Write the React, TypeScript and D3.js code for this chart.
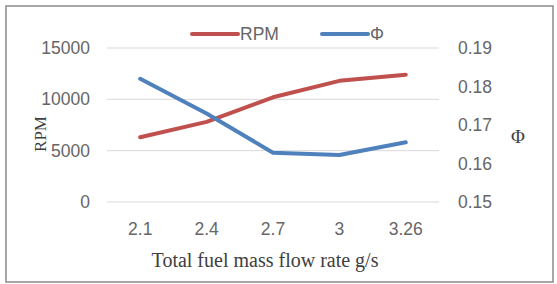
import { useEffect, useRef } from 'react';
import { axisLeft, axisRight, line, scaleBand, scaleLinear, select } from 'd3';

const categories = ['2.1', '2.4', '2.7', '3', '3.26'];
const rpmValues = [6300, 7800, 10200, 11800, 12400];
const phiValues = [0.182, 0.173, 0.1628, 0.1622, 0.1655];
const rpmTicks = [0, 5000, 10000, 15000];
const phiTicks = [0.15, 0.16, 0.17, 0.18, 0.19];

export default function App() {
  const ref = useRef<SVGSVGElement>(null);

  useEffect(() => {
    const svg = select(ref.current);
    svg.selectAll('*').remove();

    const width = 557,
      height = 284;
    const plot = { left: 107, right: 439, top: 48, bottom: 202 };
    const tickFont = '"Liberation Sans", Arial, sans-serif';
    const serif = '"Liberation Serif", "Times New Roman", serif';

    svg.attr('width', width).attr('height', height);

    svg
      .append('rect')
      .attr('width', width)
      .attr('height', height)
      .attr('fill', 'white');

    // frame
    svg
      .append('rect')
      .attr('x', 6)
      .attr('y', 6)
      .attr('width', 547)
      .attr('height', 276)
      .attr('fill', 'none')
      .attr('stroke', '#8a8a8a')
      .attr('stroke-width', 1.5);

    const x = scaleBand().domain(categories).range([plot.left, plot.right]);
    const yL = scaleLinear().domain([0, 15000]).range([plot.bottom, plot.top]);
    const yR = scaleLinear().domain([0.15, 0.19]).range([plot.bottom, plot.top]);

    // gridlines
    svg
      .append('g')
      .selectAll('line')
      .data(rpmTicks)
      .join('line')
      .attr('x1', plot.left)
      .attr('x2', plot.right)
      .attr('y1', (d) => yL(d))
      .attr('y2', (d) => yL(d))
      .attr('stroke', '#d9d9d9')
      .attr('stroke-width', 1);

    // left axis
    const left = svg
      .append('g')
      .attr('transform', `translate(${plot.left},0)`)
      .call(
        axisLeft(yL)
          .tickValues(rpmTicks)
          .tickSize(0)
          .tickPadding(17)
          .tickFormat((d) => String(d))
      );
    left.select('.domain').remove();
    left
      .selectAll('text')
      .attr('fill', '#666')
      .attr('font-size', 17.5)
      .attr('font-family', tickFont);

    // right axis
    const right = svg
      .append('g')
      .attr('transform', `translate(${plot.right},0)`)
      .call(
        axisRight(yR)
          .tickValues(phiTicks)
          .tickSize(0)
          .tickPadding(19)
          .tickFormat((d) => Number(d).toFixed(2))
      );
    right.select('.domain').remove();
    right
      .selectAll('text')
      .attr('fill', '#666')
      .attr('font-size', 17.5)
      .attr('font-family', tickFont);

    // x labels
    svg
      .append('g')
      .selectAll('text')
      .data(categories)
      .join('text')
      .attr('x', (d) => Number(x(d)) + x.bandwidth() / 2)
      .attr('y', 235)
      .attr('text-anchor', 'middle')
      .attr('fill', '#666')
      .attr('font-size', 17.5)
      .attr('font-family', tickFont)
      .text((d) => d);

    const cx = (_: number, i: number) => Number(x(categories[i])) + x.bandwidth() / 2;

    svg
      .append('path')
      .datum(rpmValues)
      .attr('fill', 'none')
      .attr('stroke', '#c0504d')
      .attr('stroke-width', 4)
      .attr('stroke-linecap', 'round')
      .attr('stroke-linejoin', 'round')
      .attr('d', line<number>().x(cx).y((d) => yL(d)));

    svg
      .append('path')
      .datum(phiValues)
      .attr('fill', 'none')
      .attr('stroke', '#4f81bd')
      .attr('stroke-width', 4)
      .attr('stroke-linecap', 'round')
      .attr('stroke-linejoin', 'round')
      .attr('d', line<number>().x(cx).y((d) => yR(d)));

    // legend
    const legend = [
      { name: 'RPM', color: '#c0504d', x: 192 },
      { name: 'Φ', color: '#4f81bd', x: 322 },
    ];
    const lg = svg.append('g').selectAll('g').data(legend).join('g');
    lg.append('line')
      .attr('x1', (d) => d.x)
      .attr('x2', (d) => d.x + 46)
      .attr('y1', 34)
      .attr('y2', 34)
      .attr('stroke', (d) => d.color)
      .attr('stroke-width', 4)
      .attr('stroke-linecap', 'round');
    lg.append('text')
      .attr('x', (d) => d.x + 48)
      .attr('y', 40)
      .attr('fill', '#666')
      .attr('font-size', 17.5)
      .attr('font-family', tickFont)
      .text((d) => d.name);

    // axis titles
    svg
      .append('text')
      .attr('transform', 'translate(46,134) rotate(-90)')
      .attr('text-anchor', 'middle')
      .attr('fill', '#404040')
      .attr('font-size', 17)
      .attr('font-family', serif)
      .text('RPM');

    svg
      .append('text')
      .attr('x', 518)
      .attr('y', 143)
      .attr('text-anchor', 'middle')
      .attr('fill', '#404040')
      .attr('font-size', 19)
      .attr('font-family', serif)
      .text('Φ');

    svg
      .append('text')
      .attr('x', 265)
      .attr('y', 267)
      .attr('text-anchor', 'middle')
      .attr('fill', '#404040')
      .attr('font-size', 20)
      .attr('font-family', serif)
      .text('Total fuel mass flow rate g/s');
  }, []);

  return (
    <div style={{ position: 'absolute', left: 0, top: 0 }}>
      <svg ref={ref} style={{ display: 'block' }} />
    </div>
  );
}
